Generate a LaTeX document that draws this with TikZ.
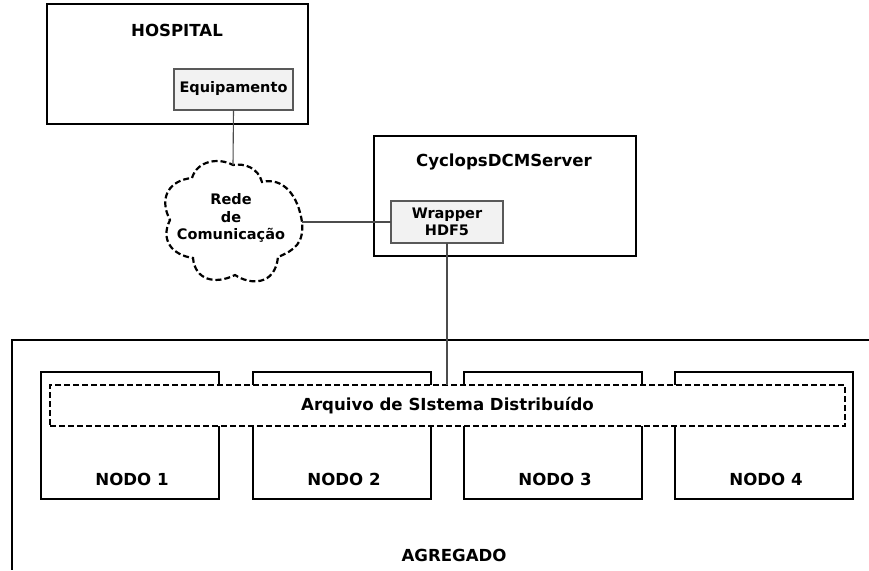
\documentclass[tikz,border=0pt]{standalone}
\usepackage{fontspec}
\setmainfont{DejaVu Sans}
\tikzset{
 x=1pt,y=-1pt,
 lbl/.style={font=\fontsize{16.6}{20}\selectfont\bfseries,align=center,inner sep=0pt},
 small/.style={font=\fontsize{14.5}{17.5}\selectfont\bfseries,align=center,inner sep=0pt},
 bigbox/.style={draw=black,line width=2.2pt,fill=white,inner sep=0pt,outer sep=0pt},
 inbox/.style={draw=black!65,line width=1.2pt,fill=black!5,inner sep=0pt,outer sep=0pt},
 conn/.style={draw=black!70,line width=1.1pt},
 dash1/.style={draw=black,line width=2.2pt,dash pattern=on 6pt off 3pt},
}
\newcommand{\rectnode}[6]{\node[#1,minimum width=#4-#3,minimum height=#6-#5,anchor=north west] (#2) at (#3,#5) {};}
\begin{document}
\begin{tikzpicture}
\useasboundingbox (0,0) rectangle (869,570);
% aggregate frame
\coordinate (ae) at (869,340);
\coordinate (ac) at (12,340);
\coordinate (as) at (12,570);
\draw[line width=2.2pt,line join=miter] (ae) -- (ac) -- (as);
\node[lbl] (agg) at (454,555) {AGREGADO};
% hospital
\rectnode{bigbox}{hosp}{47}{308}{4}{124}
\node[lbl] (hospt) at (177,30) {HOSPITAL};
\rectnode{inbox}{equip}{174}{293}{69}{110}
\node[small] (equipt) at (233.5,88) {Equipamento};
% server
\rectnode{bigbox}{srv}{374}{636}{136}{256}
\node[lbl] (srvt) at (504,162) {CyclopsDCMServer};
\rectnode{inbox}{wrap}{391}{503}{201}{243}
\node[small] (wrapt) at (447,222) {Wrapper\\HDF5};
% cloud
\coordinate (ctop) at (233,165);
\coordinate (cright) at (302,222);
\draw[dash1] (192,178) .. controls (197,161) and (218,157) .. (ctop)
 .. controls (245,163) and (258,168) .. (262,182)
 .. controls (283,177) and (298,195) .. (cright)
 .. controls (304,243) and (295,250) .. (278,257)
 .. controls (275,286) and (250,285) .. (235,275)
 .. controls (215,285) and (195,280) .. (193,258)
 .. controls (172,255) and (160,240) .. (170,220)
 .. controls (158,197) and (170,180) .. cycle;
\node[small] (cloud) at (231,218) {Rede\\de\\Comunicação};
% nodes
\rectnode{bigbox}{n1}{41}{219}{372}{499}
\rectnode{bigbox}{n2}{253}{431}{372}{499}
\rectnode{bigbox}{n3}{464}{642}{372}{499}
\rectnode{bigbox}{n4}{675}{853}{372}{499}
\node[lbl] at (132,479) {NODO 1};
\node[lbl] at (344,479) {NODO 2};
\node[lbl] at (555,479) {NODO 3};
\node[lbl] at (766,479) {NODO 4};
% dfs
\node[dash1,fill=white,minimum width=795,minimum height=41,inner sep=0pt,outer sep=0pt,anchor=north west,
 font=\fontsize{16.6}{20}\selectfont\bfseries] (dfs) at (50,385) {Arquivo de SIstema Distribuído};
% connectors
\draw[conn] (equip.south) -- (ctop);
\draw[conn] (cright) -- (wrap.west);
\draw[conn] (wrap.south) -- (dfs.north -| wrap.south);
\end{tikzpicture}
\end{document}
